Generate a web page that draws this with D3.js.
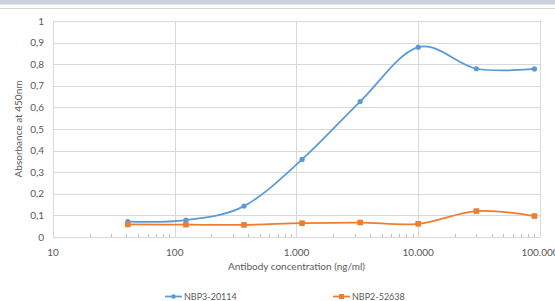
<!DOCTYPE html>
<html>
<head>
<meta charset="utf-8">
<script src="https://cdn.jsdelivr.net/npm/d3@7"></script>
<style>
  body { margin: 0; background: #fff; }
  svg { display: block; font-family: Lato, "Open Sans", sans-serif; }
</style>
</head>
<body>
<svg id="chart"></svg>
<script>
// Absorbance at 450nm vs antibody concentration (log scale)
const concentrations = [41.15, 123.5, 370.4, 1111, 3333, 10000, 30000, 90000];
const seriesNames = ["NBP3-20114", "NBP2-52638"];
const blueValues = [0.071, 0.078, 0.143, 0.359, 0.627, 0.879, 0.779, 0.778];
const orangeValues = [0.058, 0.057, 0.056, 0.064, 0.067, 0.061, 0.120, 0.097];
const yTicks = [0, 0.1, 0.2, 0.3, 0.4, 0.5, 0.6, 0.7, 0.8, 0.9, 1];
const xTicks = [10, 100, 1000, 10000, 100000];

const W = 555, H = 301;
const MARGIN = { top: 21, right: 15, bottom: 64, left: 53 };
const BLUE = "#5b9bd5", ORANGE = "#ed7d31";
const GRID = "#d9d9d9", TEXT = "#595959";

const svg = d3.select("#chart").attr("width", W).attr("height", H);

//Top band from the screenshot
svg.append("rect").attr("x", 0).attr("y", 0).attr("width", W).attr("height", 4.5).attr("fill", "#c9d1dc");
svg.append("line").attr("x1", 0).attr("x2", W).attr("y1", 8.5).attr("y2", 8.5).attr("stroke", "#d4d4d4");

const innerW = W - MARGIN.left - MARGIN.right;
const innerH = H - MARGIN.top - MARGIN.bottom;

const x = d3.scaleLog().domain([10, 100000]).range([0, innerW]);
const y = d3.scaleLinear().domain([0, 1]).range([innerH, 0]);

const g = svg.append("g").attr("transform", `translate(${MARGIN.left},${MARGIN.top})`);

//Gridlines
g.append("g")
  .selectAll("line")
  .data(yTicks)
  .join("line")
  .attr("x1", 0).attr("x2", innerW)
  .attr("y1", d => Math.round(y(d)) + 0.5).attr("y2", d => Math.round(y(d)) + 0.5)
  .attr("stroke", GRID);

g.append("g")
  .selectAll("line")
  .data(xTicks)
  .join("line")
  .attr("x1", d => Math.round(x(d)) + 0.5).attr("x2", d => Math.round(x(d)) + 0.5)
  .attr("y1", 0).attr("y2", innerH)
  .attr("stroke", GRID);

//Minor ticks on the x axis (inside)
const minor = [];
xTicks.slice(0, -1).forEach(t => { for (let k = 2; k <= 9; k++) minor.push(t * k); });
g.append("g")
  .selectAll("line")
  .data(minor)
  .join("line")
  .attr("x1", d => Math.round(x(d)) + 0.5).attr("x2", d => Math.round(x(d)) + 0.5)
  .attr("y1", innerH - 3).attr("y2", innerH)
  .attr("stroke", "#bfbfbf");

//Axis labels
const fmtX = d3.formatLocale({ decimal: ",", thousands: ".", grouping: [3], currency: ["", ""] }).format(",d");
g.append("g")
  .selectAll("text")
  .data(xTicks)
  .join("text")
  .attr("x", d => x(d))
  .attr("y", innerH + 19)
  .attr("text-anchor", "middle")
  .attr("font-size", 10)
  .attr("fill", TEXT)
  .text(d => fmtX(d));

g.append("g")
  .selectAll("text")
  .data(yTicks)
  .join("text")
  .attr("x", -9)
  .attr("y", d => y(d) + 3.5)
  .attr("text-anchor", "end")
  .attr("font-size", 10)
  .attr("fill", TEXT)
  .text(d => String(+d.toFixed(1)).replace(".", ","));

g.append("text")
  .attr("x", x(1000))
  .attr("y", innerH + 33)
  .attr("text-anchor", "middle")
  .attr("font-size", 10)
  .attr("fill", TEXT)
  .text("Antibody concentration (ng/ml)");

g.append("text")
  .attr("transform", `translate(-31,${innerH / 2}) rotate(-90)`)
  .attr("text-anchor", "middle")
  .attr("font-size", 10)
  .attr("fill", TEXT)
  .text("Absorbance at 450nm");

//Lines
const line = d3.line()
  .x(d => x(d[0]))
  .y(d => y(d[1]))
  .curve(d3.curveCardinal.tension(0));

const series = [
  { name: seriesNames[0], values: blueValues, color: BLUE, marker: "circle" },
  { name: seriesNames[1], values: orangeValues, color: ORANGE, marker: "square" }
];

series.forEach(s => {
  const pts = concentrations.map((c, i) => [c, s.values[i]]);
  g.append("path")
    .attr("d", line(pts))
    .attr("fill", "none")
    .attr("stroke", s.color)
    .attr("stroke-width", 1.75);
  if (s.marker === "circle") {
    g.append("g").selectAll("circle").data(pts).join("circle")
      .attr("cx", d => x(d[0])).attr("cy", d => y(d[1])).attr("r", 2.6)
      .attr("fill", s.color);
  } else {
    g.append("g").selectAll("rect").data(pts).join("rect")
      .attr("x", d => x(d[0]) - 2.8).attr("y", d => y(d[1]) - 2.8)
      .attr("width", 5.6).attr("height", 5.6)
      .attr("fill", s.color);
  }
});

//Legend
const legendY = 296.5;
const legendX = [165, 333];
series.forEach((s, i) => {
  const lg = svg.append("g").attr("transform", `translate(${legendX[i]},${legendY})`);
  lg.append("line").attr("x1", 0).attr("x2", 17).attr("y1", 0).attr("y2", 0)
    .attr("stroke", s.color).attr("stroke-width", 1.75);
  if (s.marker === "circle") {
    lg.append("circle").attr("cx", 8.5).attr("cy", 0).attr("r", 2.3).attr("fill", s.color);
  } else {
    lg.append("rect").attr("x", 6).attr("y", -2.5).attr("width", 5).attr("height", 5).attr("fill", s.color);
  }
  lg.append("text").attr("x", 19).attr("y", 3.3)
    .attr("font-size", 9).attr("fill", TEXT).text(s.name);
});
</script>
</body>
</html>
